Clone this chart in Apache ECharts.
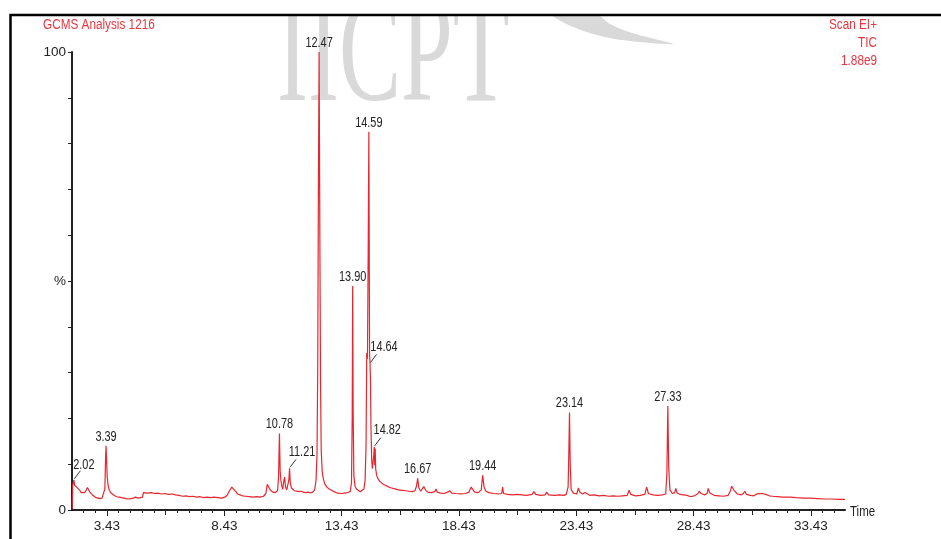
<!DOCTYPE html>
<html><head><meta charset="utf-8">
<script src="https://cdn.jsdelivr.net/npm/echarts@6/dist/echarts.min.js"></script>
<style>html,body{margin:0;padding:0;background:#fff}#c{width:941px;height:539px}</style>
</head><body><div id="c"></div>
<script>
// Retention time (min) of the TIC trace
const times = [
1.95,1.97,2.00,2.02,2.05,2.09,2.14,2.20,2.27,2.33,2.40,2.47,2.54,2.60,2.64,2.70,2.76,2.83,2.90,2.97,
3.05,3.13,3.22,3.30,3.34,3.37,3.39,3.41,3.44,3.48,3.53,3.60,3.68,3.76,3.85,3.95,4.05,4.15,4.25,4.35,
4.45,4.55,4.65,4.75,4.85,4.95,4.98,5.05,5.15,5.30,5.45,5.60,5.75,5.90,6.05,6.20,6.35,6.50,6.65,6.80,
6.95,7.10,7.25,7.40,7.55,7.70,7.85,8.00,8.15,8.30,8.45,8.55,8.65,8.75,8.83,8.92,9.00,9.10,9.20,9.35,
9.50,9.65,9.80,9.95,10.10,10.20,10.26,10.32,10.40,10.50,10.60,10.70,10.74,10.78,10.81,10.84,10.88,10.92,10.96,11.00,
11.04,11.09,11.14,11.18,11.21,11.24,11.29,11.35,11.42,11.50,11.60,11.70,11.80,11.90,12.00,12.10,12.20,12.28,12.34,12.38,
12.41,12.44,12.47,12.50,12.53,12.56,12.60,12.65,12.72,12.80,12.90,13.00,13.10,13.25,13.40,13.55,13.70,13.80,13.85,13.88,
13.90,13.92,13.95,14.00,14.06,14.14,14.22,14.30,14.38,14.43,14.47,14.50,14.53,14.56,14.59,14.61,14.62,14.64,14.66,14.68,
14.71,14.74,14.77,14.80,14.82,14.84,14.86,14.88,14.92,14.98,15.05,15.15,15.25,15.40,15.55,15.70,15.85,16.00,16.15,16.30,
16.45,16.55,16.62,16.67,16.72,16.80,16.88,16.93,17.00,17.10,17.25,17.40,17.45,17.50,17.65,17.80,17.95,18.05,18.12,18.30,
18.50,18.70,18.85,18.95,19.02,19.10,19.25,19.38,19.44,19.50,19.58,19.70,19.90,20.10,20.25,20.29,20.33,20.50,20.70,20.90,
21.10,21.30,21.55,21.62,21.70,21.90,22.10,22.17,22.25,22.50,22.70,22.90,23.00,23.08,23.11,23.14,23.17,23.21,23.30,23.45,
23.52,23.58,23.70,23.80,23.87,24.00,24.20,24.40,24.60,24.80,25.00,25.20,25.40,25.60,25.68,25.75,25.95,26.15,26.35,26.43,
26.50,26.70,26.90,27.10,27.24,27.29,27.33,27.37,27.42,27.52,27.62,27.67,27.73,27.85,28.00,28.15,28.30,28.45,28.60,28.67,
28.75,28.90,29.00,29.05,29.12,29.30,29.50,29.70,29.90,30.00,30.05,30.15,30.30,30.45,30.55,30.61,30.68,30.85,31.00,31.12,
31.20,31.35,31.42,31.50,31.65,31.80,32.00,32.20,32.45,32.50,32.55,32.80,33.10,33.40,33.70,34.00,34.30,34.60,34.88
];
// Relative abundance (%)
const intensity = [
0.3,5.4,6.1,6.6,5.4,5.7,5.0,4.8,4.3,3.8,3.6,3.8,4.3,4.9,4.5,3.9,3.5,3.2,2.9,2.7,
2.6,2.5,2.6,2.7,4.6,11.0,14.0,11.5,7.2,5.3,4.3,3.7,3.3,3.1,2.9,2.8,2.7,2.6,2.5,2.4,
2.5,2.6,2.8,2.6,2.7,2.8,3.8,3.9,3.7,3.8,3.6,3.7,3.5,3.6,3.4,3.5,3.3,3.2,3.0,3.1,
2.9,3.0,2.8,2.9,2.7,2.8,2.7,2.8,2.7,2.6,2.8,3.2,4.2,5.0,4.8,4.0,3.5,3.3,3.1,3.0,
2.9,2.8,2.9,2.8,3.0,3.6,5.6,5.0,4.3,3.9,3.8,4.2,7.0,16.7,8.5,6.5,5.2,4.5,6.2,7.2,
5.0,4.4,4.6,6.5,9.1,6.0,4.8,4.5,4.2,4.3,4.0,4.1,3.9,3.8,3.9,3.7,3.9,4.4,6.5,12.0,
30.0,70.0,100,62.0,28.0,13.0,8.5,6.8,5.6,5.0,4.6,4.3,4.0,3.7,3.6,3.7,3.8,4.1,6.0,20.0,
48.9,22.0,7.5,5.2,4.6,4.2,4.0,4.1,4.6,6.5,14.0,34.3,33.0,55.0,82.6,50.0,34.0,32.0,28.0,18.0,
11.0,9.0,10.5,12.0,13.8,9.8,13.4,9.0,7.6,6.8,6.3,5.8,5.5,5.1,4.8,4.6,4.4,4.3,4.2,4.1,
4.0,4.2,5.2,6.9,4.8,4.1,4.5,5.1,4.4,3.9,3.8,4.0,4.6,3.9,3.7,3.6,3.9,4.2,3.7,3.6,
3.5,3.6,3.9,5.0,4.6,3.9,3.8,4.4,7.6,5.0,4.1,3.8,3.6,3.5,3.6,5.0,3.6,3.4,3.3,3.4,
3.3,3.2,3.4,4.0,3.4,3.2,3.3,3.9,3.3,3.2,3.3,3.2,3.4,5.0,12.0,21.3,10.0,4.5,3.7,3.5,
4.8,3.9,3.5,3.8,3.4,3.2,3.3,3.1,3.2,3.0,3.1,3.0,3.1,3.2,4.3,3.4,3.1,3.2,3.4,5.0,
3.6,3.3,3.2,3.3,3.5,8.0,22.7,9.0,4.4,3.6,3.8,4.7,3.7,3.4,3.3,3.2,2.9,3.1,3.5,4.1,
3.6,3.3,3.6,4.7,3.7,3.2,3.1,3.0,3.2,4.2,5.2,4.3,3.5,3.3,3.6,4.1,3.4,3.2,3.1,3.5,
3.3,3.6,4.0,3.4,3.1,3.0,2.9,2.8,2.8,3.1,2.8,2.7,2.6,2.6,2.5,2.4,2.4,2.3,2.3
];
// Labelled peaks
const peakTimes  = [2.02, 3.39, 10.78, 11.21, 12.47, 13.90, 14.59, 14.64, 14.82, 16.67, 19.44, 23.14, 27.33];
const peakLabels = ['2.02','3.39','10.78','11.21','12.47','13.90','14.59','14.64','14.82','16.67','19.44','23.14','27.33'];
const leaderPeaks = ['2.02','11.21','14.64','14.82'];
// Axis tick labels
const xTickLabels = [3.43, 8.43, 13.43, 18.43, 23.43, 28.43, 33.43];
const xMidTicks = [5.93, 10.93, 15.93, 20.93, 25.93, 30.93];
const yTickLabels = {0: '0', 50: '%', 100: '100'};
const headerLeft = 'GCMS Analysis 1216';
const headerRight = ['Scan EI+', 'TIC', '1.88e9'];

const xMin = 1.94, xMax = 34.88;
const xMinorTicks = [];
for (let v = 2.43; v < xMax; v += 0.5) {
  const r = Math.round(v * 100) / 100;
  if (!xTickLabels.includes(r) && !xMidTicks.includes(r)) xMinorTicks.push(r);
}

const FONT = '"Liberation Sans", Arial, sans-serif';
const RED = '#e8262e';
const HEAD = '#ea3540';
const INK = '#222';

// label centre offsets (px) from the peak apex
const labelOffset = { '2.02': [10, -14.5], '11.21': [12.5, -16], '14.64': [14, -16.7], '14.82': [13, -17] };

const trace = times.map((t, i) => [t, intensity[i]]);
const peakValue = t => intensity[times.indexOf(t)];
const peakData = peakTimes.map(t => [t, peakValue(t)]);

const chart = echarts.init(document.getElementById('c'), null, { renderer: 'canvas' });
const baseX = {
  type: 'value', min: xMin, max: xMax, gridIndex: 0, position: 'bottom',
  splitLine: { show: false }
};
const headText = (text, x, y, align) => ({
  type: 'text', x: x, y: y, z: 20, silent: true, scaleX: 0.84,
  style: { text: text, font: '14px ' + FONT, fill: HEAD, textAlign: align, textVerticalAlign: 'middle' }
});
chart.setOption({
  animation: false,
  backgroundColor: '#fff',
  grid: { left: 72, right: 96, top: 52, bottom: 29, containLabel: false },
  xAxis: [
    Object.assign({}, baseX, {
      axisLine: { show: true, lineStyle: { color: INK, width: 2 } },
      axisTick: { show: true, length: 6, customValues: xTickLabels, lineStyle: { color: INK, width: 1 } },
      axisLabel: { show: true, customValues: xTickLabels, formatter: v => v.toFixed(2),
        color: INK, fontSize: 13.5, fontFamily: FONT, margin: 9 }
    }),
    Object.assign({}, baseX, {
      axisLine: { show: false },
      axisTick: { show: true, length: 5, customValues: xMidTicks, lineStyle: { color: INK, width: 1 } },
      axisLabel: { show: false }
    }),
    Object.assign({}, baseX, {
      axisLine: { show: false },
      axisTick: { show: true, length: 3, customValues: xMinorTicks, lineStyle: { color: INK, width: 1 } },
      axisLabel: { show: false }
    })
  ],
  yAxis: {
    type: 'value', min: 0, max: 100, interval: 10,
    splitLine: { show: false },
    axisLine: { show: true, lineStyle: { color: INK, width: 2 } },
    axisTick: { show: true, length: 4, lineStyle: { color: INK, width: 1 } },
    axisLabel: { formatter: v => (yTickLabels[v] !== undefined ? yTickLabels[v] : ''),
      color: INK, fontSize: 13.5, fontFamily: FONT, margin: 6 }
  },
  series: [
    {
      type: 'line', data: trace, xAxisIndex: 0, symbol: 'none', z: 3,
      lineStyle: { color: RED, width: 1.2 }, silent: true
    },
    {
      type: 'custom', data: peakData, xAxisIndex: 0, z: 4, silent: true,
      renderItem: (params, api) => {
        const p = api.coord([api.value(0), api.value(1)]);
        const name = peakLabels[params.dataIndex];
        const off = labelOffset[name] || [0, -9];
        const children = [{
          type: 'text', x: p[0] + off[0], y: p[1] + off[1], scaleX: 0.78,
          style: { text: name, font: '14px ' + FONT, fill: INK, align: 'center', verticalAlign: 'middle' }
        }];
        if (leaderPeaks.includes(name)) {
          children.push({ type: 'line',
            shape: { x1: p[0] + 0.5, y1: p[1] - 1, x2: p[0] + 6.5, y2: p[1] - 9 },
            style: { stroke: '#333', lineWidth: 1 } });
        }
        return { type: 'group', children: children };
      }
    }
  ],
  graphic: [
    { type: 'text', x: 277, y: 61, scaleX: 0.62, z: -10, silent: true,
      style: { text: 'IICPT', font: '150px "Liberation Serif", serif', fill: '#d9d9d9',
        textAlign: 'left', textVerticalAlign: 'middle' } },
    { type: 'polygon', z: -10, silent: true,
      shape: { points: [[553, 15], [578, 29], [615, 39], [673, 44], [632, 33], [610, 24], [597, 15]], smooth: 0.3 },
      style: { fill: '#d9d9d9' } },
    { type: 'rect', z: 50, silent: true, shape: { x: 0, y: 0, width: 941, height: 14 }, style: { fill: '#fff' } },
    { type: 'rect', z: 51, silent: true, shape: { x: 10.5, y: 15, width: 1000, height: 600 },
      style: { fill: 'none', stroke: '#000', lineWidth: 2.5 } },
    headText(headerLeft, 43, 25, 'left'),
    headText(headerRight[0], 877, 25, 'right'),
    headText(headerRight[1], 877, 43, 'right'),
    headText(headerRight[2], 877, 61, 'right'),
    { type: 'text', x: 850, y: 512, z: 20, silent: true, scaleX: 0.82,
      style: { text: 'Time', font: '14px ' + FONT, fill: INK, textAlign: 'left', textVerticalAlign: 'middle' } }
  ]
});
</script>
</body></html>
